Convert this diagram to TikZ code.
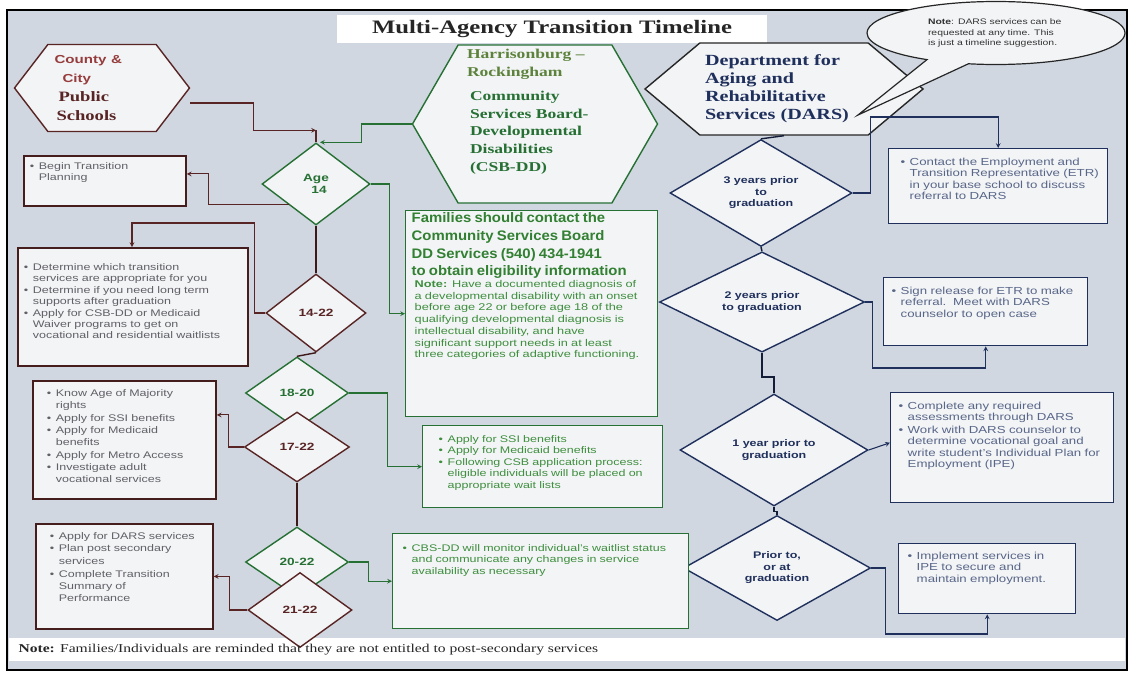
\documentclass[tikz,border=0pt]{standalone}
\usepackage{fontspec}
\setmainfont[FakeStretch=1.3]{Liberation Serif}
\setsansfont[FakeStretch=1.3]{Liberation Sans}
\newfontfamily\headfont[FakeStretch=1.08]{Liberation Sans}
\usetikzlibrary{shapes.geometric, shapes.symbols, shapes.callouts, arrows}

\definecolor{bgblue}{RGB}{208,215,225}
\definecolor{paper}{RGB}{243,244,246}
\definecolor{brn}{RGB}{88,36,36}
\definecolor{grn}{RGB}{38,112,52}
\definecolor{nvy}{RGB}{32,48,92}
\definecolor{olivetxt}{RGB}{92,130,60}
\definecolor{headgreen}{RGB}{50,128,50}
\definecolor{greytxt}{RGB}{96,96,102}
\definecolor{greentxt}{RGB}{62,142,62}
\definecolor{bluetxt}{RGB}{88,102,136}
\definecolor{redtxt}{RGB}{150,60,60}

\setlength{\lineskip}{0pt}
% one bullet item, its lines stay under the first word
\newcommand{\bul}[1]{\noindent\makebox[9pt][l]{\textbullet}\begin{tabular}[t]{@{}l@{}}#1\end{tabular}}

\tikzstyle{agency} = [signal, signal to=east and west, draw, fill=paper, line width=1.4pt, inner sep=0pt]
\tikzstyle{stage} = [diamond, draw, fill=paper, line width=1.4pt, inner sep=0pt, align=center, font=\sffamily\bfseries\fontsize{10.5}{12}\selectfont]
\tikzstyle{gradstage} = [stage, draw=nvy, text=nvy, font=\sffamily\bfseries\fontsize{9.6}{11.5}\selectfont]
\tikzstyle{todo} = [rectangle, draw, fill=paper, anchor=north west, align=left, inner xsep=6pt, inner ysep=6pt, line width=1.4pt]
\tikzstyle{leftbox} = [todo, draw=brn!80!black, line width=1.8pt, text=greytxt, font=\sffamily\fontsize{9.6}{11}\selectfont]
\tikzstyle{greenbox} = [todo, draw=grn, text=greentxt, font=\sffamily\fontsize{9.6}{11.5}\selectfont]
\tikzstyle{rightbox} = [todo, draw=nvy, text=bluetxt, font=\sffamily\fontsize{10.2}{11.5}\selectfont]
\tikzstyle{arrow} = [line width=1.1pt,->,>=stealth]
\tikzstyle{link} = [line width=1.4pt]

\begin{document}
\begin{tikzpicture}[x=1pt, y=-1pt]

%% BACKGROUND

\useasboundingbox (0,0) rectangle (1131,675);
\fill[white] (0,0) rectangle (1131,675);
\draw[line width=1.6pt, fill=bgblue] (7,10) rectangle (1127,670);
\fill[white] (9,638) rectangle (1125,661);

%% NODES

\node (title) [fill=white, minimum width=430pt, minimum height=28pt, text=black!85, font=\rmfamily\bfseries\fontsize{19}{22}\selectfont] at (552,29) {Multi-Agency Transition Timeline};

\node (cps) [agency, draw=brn, minimum width=175pt, minimum height=87pt, signal pointer angle=105, text width=95pt, align=left, text=brn, font=\rmfamily\bfseries\fontsize{14.3}{19}\selectfont] at (102,88) {{\sffamily\fontsize{11.6}{19}\selectfont\color{redtxt}County \&\\ \hspace*{8pt}City}\\ \hspace*{4pt}Public\\ \hspace*{2pt}Schools};

\node (csb) [agency, draw=grn, minimum width=245pt, minimum height=158pt, signal pointer angle=120] at (535,124) {};
\node (csblabel) [text width=136pt, align=left, font=\rmfamily\bfseries\fontsize{13.5}{17.75}\selectfont] at ([yshift=12pt]csb.center) {{\color{olivetxt}Harrisonburg –\\ Rockingham}\\[6pt] {\color{grn}\hspace*{3pt}Community\\ \hspace*{3pt}Services Board-\\ \hspace*{3pt}Developmental\\ \hspace*{3pt}Disabilities\\ \hspace*{3pt}(CSB-DD)}};

\node (dars) [agency, draw=black!85, minimum width=278pt, minimum height=92pt, signal pointer angle=80, text width=158pt, align=left, text=nvy, font=\rmfamily\bfseries\fontsize{15.5}{18}\selectfont] at (784,89) {Department for\\ Aging and\\ Rehabilitative\\ Services (DARS)};

\node (dnote) [ellipse callout, draw=black!85, fill=paper, line width=1.2pt, minimum width=258pt, minimum height=63pt, callout absolute pointer={(858,115)}, callout pointer arc=20, text width=136pt, align=left, text=black!80, font=\sffamily\fontsize{8}{10.5}\selectfont] at (996,33) {\textbf{Note}: DARS services can be\\ requested at any time. This\\ is just a timeline suggestion.};

% ages
\node (age14) [stage, draw=grn, text=grn, minimum width=108pt, minimum height=82pt] at (316,184) {Age\\ \hspace*{6pt}14};
\node (a1422) [stage, draw=brn, text=brn, minimum width=100pt, minimum height=78pt] at (316,313) {14-22};
\node (a1820) [stage, draw=grn, text=grn, minimum width=103pt, minimum height=72pt] at (297,393) {18-20};
\node (a1722) [stage, draw=brn, text=brn, minimum width=105pt, minimum height=70pt] at (297,447) {17-22};
\node (a2022) [stage, draw=grn, text=grn, minimum width=103pt, minimum height=70pt] at (297,562) {20-22};
\node (a2122) [stage, draw=brn, text=brn, minimum width=104pt, minimum height=75pt] at (300,610) {21-22};

% graduation
\node (y3) [gradstage, minimum width=182pt, minimum height=103pt] at (761,193) {3 years prior\\ to\\ graduation};
\node (y2) [gradstage, minimum width=205pt, minimum height=100pt] at (762,302) {2 years prior\\ to graduation};
\node (y1) [gradstage, minimum width=188pt, minimum height=112pt] at (774,450) {1 year prior to\\ graduation};
\node (y0) [gradstage, minimum width=187pt, minimum height=105pt] at (777,568) {Prior to,\\ or at\\ graduation};

% school side
\node (begin) [leftbox, text width=150pt, text height=7.5pt, text depth=30.5pt] at (23,155) {\bul{Begin Transition\\ Planning}};
\node (determine) [leftbox, text width=218pt, text height=16.5pt, text depth=89.5pt] at (17,247) {\bul{Determine which transition\\ services are appropriate for you}\\ \bul{Determine if you need long term\\ supports after graduation}\\ \bul{Apply for CSB-DD or Medicaid\\ Waiver programs to get on\\ vocational and residential waitlists}};
\node (know) [leftbox, font=\sffamily\fontsize{9.6}{12}\selectfont, inner xsep=14pt, text width=155pt, text height=9.5pt, text depth=96.5pt] at (32,380) {\bul{Know Age of Majority\\ rights}\\ \bul{Apply for SSI benefits}\\ \bul{Apply for Medicaid\\ benefits}\\ \bul{Apply for Metro Access}\\ \bul{Investigate adult\\ vocational services}};
\node (ldars) [leftbox, font=\sffamily\fontsize{9.6}{12.3}\selectfont, inner xsep=14pt, text width=149pt, text height=9.5pt, text depth=83.5pt] at (35,523) {\bul{Apply for DARS services}\\ \bul{Plan post secondary\\ services}\\ \bul{Complete Transition\\ Summary of\\ Performance}};

% csb side
\node (fam) [greenbox, text width=240pt, text height=6pt, text depth=188pt] at (405,210) {{\headfont\bfseries\color{headgreen}\fontsize{13.8}{17.7}\selectfont Families should contact the\\ Community Services Board\\ DD Services (540) 434-1941\\ to obtain eligibility information\par}{\sffamily\fontsize{9.8}{11.7}\selectfont\leftskip=3pt \textbf{Note:} Have a documented diagnosis of\\ a developmental disability with an onset\\ before age 22 or before age 18 of the\\ qualifying developmental diagnosis is\\ intellectual disability, and have\\ significant support needs in at least\\ three categories of adaptive functioning.\par}};
\node (ssi) [greenbox, inner xsep=16pt, text width=208pt, text height=10.5pt, text depth=59.5pt] at (422,425) {\bul{Apply for SSI benefits}\\ \bul{Apply for Medicaid benefits}\\ \bul{Following CSB application process:\\ eligible individuals will be placed on\\ appropriate wait lists}};
\node (cbs) [greenbox, inner xsep=10pt, text width=276pt, text height=11.5pt, text depth=71.5pt] at (392,533) {\bul{CBS-DD will monitor individual's waitlist status\\ and communicate any changes in service\\ availability as necessary}};

% dars side
\node (contact) [rightbox, inner xsep=12pt, text width=195pt, text height=10.5pt, text depth=52.5pt] at (888,148) {\bul{Contact the Employment and\\ Transition Representative (ETR)\\ in your base school to discuss\\ referral to DARS}};
\node (sign) [rightbox, inner xsep=8pt, text width=188pt, text height=10.5pt, text depth=45.5pt] at (883,277) {\bul{Sign release for ETR to make\\ referral.\ \ Meet with DARS\\ counselor to open case}};
\node (complete) [rightbox, inner xsep=8pt, text width=207pt, text height=10.5pt, text depth=87.5pt] at (890,392) {\bul{Complete any required\\ assessments through DARS}\\ \bul{Work with DARS counselor to\\ determine vocational goal and\\ write student's Individual Plan for\\ Employment (IPE)}};
\node (implement) [rightbox, inner xsep=9pt, text width=159pt, text height=9.5pt, text depth=48.5pt] at (898,543) {\bul{Implement services in\\ IPE to secure and\\ maintain employment.}};

\node (footnote) [anchor=west, text=black!85, font=\rmfamily\fontsize{12}{14}\selectfont] at (15,650) {\textbf{Note:} Families/Individuals are reminded that they are not entitled to post-secondary services};

%% ARROWS

\draw [arrow, brn] ([yshift=-15pt]cps.east) -- ++(63,0) |- ([yshift=12pt]age14.north);
\draw [link, brn] ([yshift=12pt]age14.north) -- (age14.north);
\draw [arrow, grn] (csb.west) -- ++(-50,0) |- ([xshift=4pt]age14.north);

\draw [arrow, brn] (age14.south west) -- ++(-80,0) |- ([yshift=7pt]begin.east);
\draw [arrow, grn] (age14.east) -- ++(19,0) |- (fam.west);
\draw [link, brn!70!black] (age14.south) -- (a1422.north);

\draw [arrow, brn] (a1422.west) -- ++(-11,0) -- ++(0,-90) -| ([xshift=115pt]determine.north west);
\draw [link, brn!70!black] (a1422.south) -- (a1820.north);

\draw [arrow, grn] (a1820.east) -- ++(38,0) |- (ssi.west);
\draw [arrow, brn] (a1722.west) -- ++(-15,0) |- ([yshift=25pt]know.east);
\draw [link, brn!70!black] (a1722.south) -- (a2022.north);

\draw [arrow, grn] (a2022.east) -- ++(19,0) |- (cbs.west);
\draw [arrow, brn] (a2122.west) -- ++(-18,0) |- (ldars.east);

\draw [link, nvy!60!black] (dars.south) -- (y3.north);
\draw [arrow, nvy] (y3.east) -- ++(18,0) -- ++(0,-76) -| (contact.north);
\draw [link, nvy!60!black] (y3.south) -- (y2.north);
\draw [arrow, nvy] (y2.east) -- ++(7,0) -- ++(0,66) -| (sign.south);
\draw [link, nvy!60!black] (y2.south) -- ++(0,24) -| (y1.north);
\draw [arrow, nvy] (y1.east) -- ([yshift=5pt]complete.west);
\draw [link, nvy!60!black] (y1.south) -- ++(0,5) -| (y0.north);
\draw [arrow, nvy] (y0.east) -- ++(14,0) -- ++(0,66) -| (implement.south);

\end{tikzpicture}
\end{document}
